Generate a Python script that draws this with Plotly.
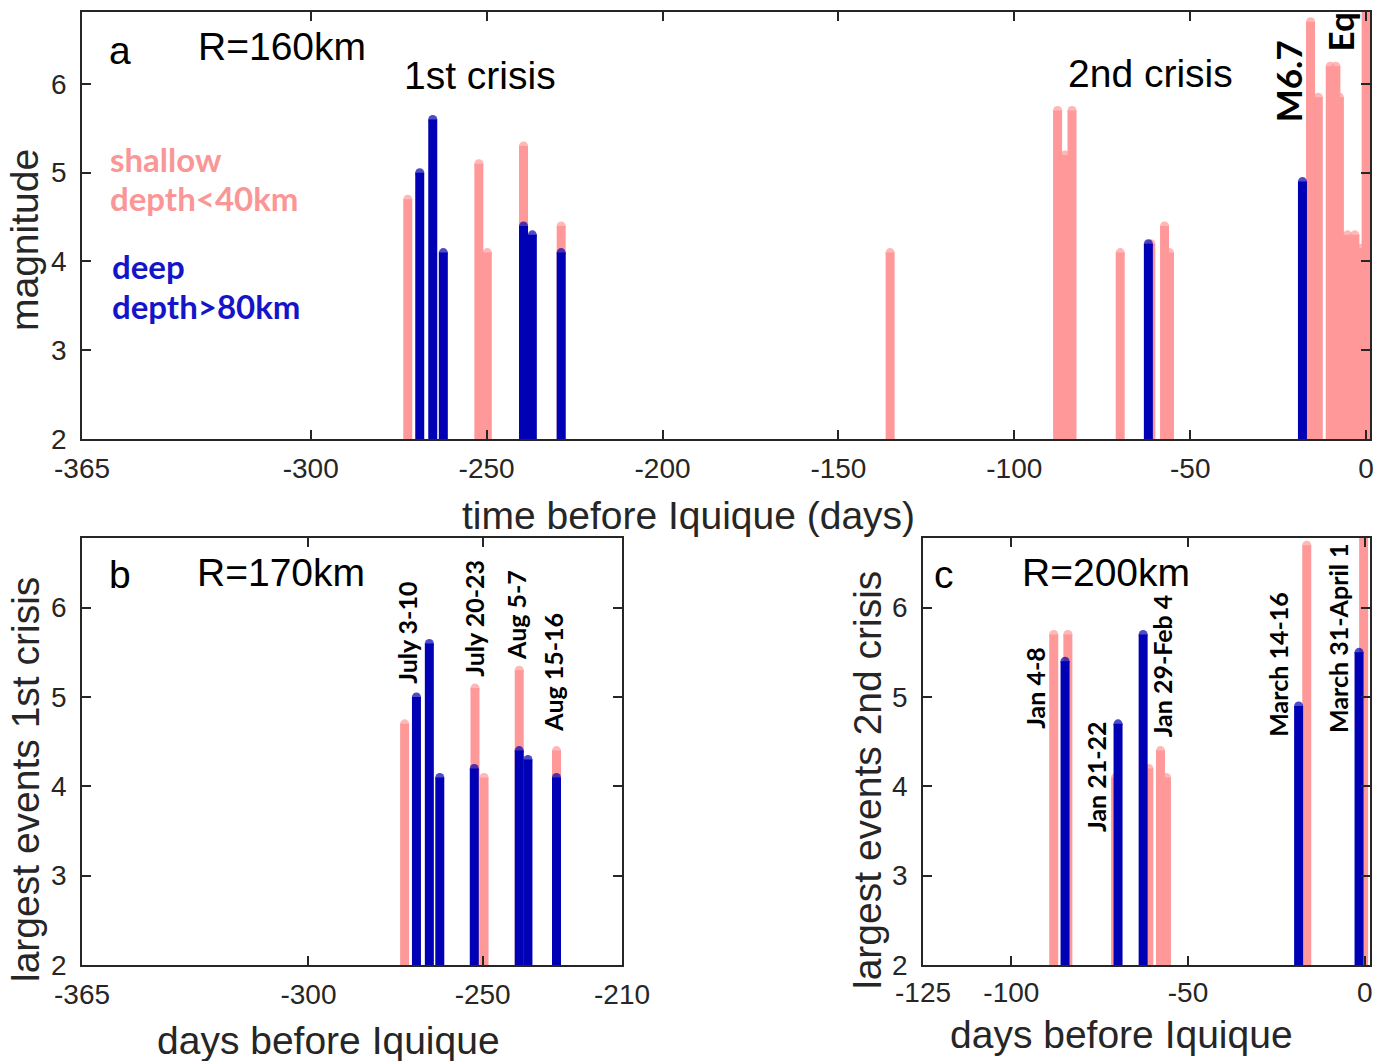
import plotly.graph_objects as go

# ---------------- data ----------------
# Panel a: R=160km (days before Iquique, magnitude)
a_shallow_days = [-272.4, -252.2, -249.8, -239.5, -228.8, -135.3, -87.7, -85.6, -83.6,
                  -69.9, -61.2, -57.3, -55.9, -15.8, -13.6, -10.2, -8.6, -7.6,
                  -5.3, -3.2, -1.5, 0.0]
a_shallow_mag = [4.7, 5.1, 4.1, 5.3, 4.4, 4.1, 5.7, 5.2, 5.7,
                 4.1, 4.2, 4.4, 4.1, 6.7, 5.85, 6.2, 6.2, 5.85,
                 4.3, 4.3, 4.15, 8.2]
a_deep_days = [-269.0, -265.3, -262.3, -239.5, -237.0, -228.8, -61.9, -18.1]
a_deep_mag = [5.0, 5.6, 4.1, 4.4, 4.3, 4.1, 4.2, 4.9]

# Panel b: R=170km, first crisis
b_shallow_days = [-272.4, -252.2, -249.6, -239.5, -228.8]
b_shallow_mag = [4.7, 5.1, 4.1, 5.3, 4.4]
b_deep_days = [-269.0, -265.3, -262.3, -252.4, -239.5, -237.0, -228.8]
b_deep_mag = [5.0, 5.6, 4.1, 4.2, 4.4, 4.3, 4.1]

# Panel c: R=200km, second crisis
c_shallow_days = [-88.0, -84.0, -70.5, -61.1, -57.8, -56.1, -16.4, -0.3]
c_shallow_mag = [5.7, 5.7, 4.1, 4.2, 4.4, 4.1, 6.7, 8.2]
c_deep_days = [-84.8, -69.8, -62.7, -18.7, -1.6]
c_deep_mag = [5.4, 4.7, 5.7, 4.9, 5.5]

a_xticks = [-365, -300, -250, -200, -150, -100, -50, 0]
b_xticks = [-365, -300, -250, -210]
c_xticks = [-125, -100, -50, 0]
y_ticks = [2, 3, 4, 5, 6]

b_labels = ["July 3-10", "July 20-23", "Aug 5-7", "Aug 15-16"]
b_label_x = [-271.7, -252.4, -240.4, -229.9]
b_label_y = [5.72, 5.88, 5.92, 5.28]
c_labels = ["Jan 4-8", "Jan 21-22", "Jan 29-Feb 4", "March 14-16", "March 31-April 1"]
c_label_x = [-93.4, -75.9, -57.5, -24.6, -7.6]
c_label_y = [5.10, 4.10, 5.35, 5.37, 5.66]

# ---------------- style ----------------
PINK = "#FF9999"
BLUE = "#0000B4"
TXT_PINK = "#FA9696"
TXT_BLUE = "#1414C8"
AX = "#262626"
LW = 9
YMIN = 2

fig = go.Figure()


def stems(days, mags):
    xs, ys, sizes = [], [], []
    for d, m in zip(days, mags):
        xs += [d, d, None]
        ys += [YMIN, m, None]
        sizes += [0, LW, 0]
    return xs, ys, sizes


def add_series(days, mags, color, xa, ya):
    xs, ys, sz = stems(days, mags)
    fig.add_trace(go.Scatter(x=xs, y=ys, mode="lines+markers",
                             line=dict(color=color, width=LW),
                             marker=dict(color=color, size=sz, line=dict(width=0)),
                             xaxis=xa, yaxis=ya, showlegend=False, hoverinfo="skip"))


add_series(a_shallow_days, a_shallow_mag, PINK, "x", "y")
add_series(a_deep_days, a_deep_mag, BLUE, "x", "y")
add_series(b_shallow_days, b_shallow_mag, PINK, "x2", "y2")
add_series(b_deep_days, b_deep_mag, BLUE, "x2", "y2")
add_series(c_shallow_days, c_shallow_mag, PINK, "x3", "y3")
add_series(c_deep_days, c_deep_mag, BLUE, "x3", "y3")

W, H = 1386, 1061


def px(xp):
    return xp / W


def py(yp):
    return 1 - yp / H


def lab(vals):
    return [str(v) for v in vals]


axis_common = dict(showline=True, linecolor=AX, linewidth=1.5, mirror="ticks",
                   ticks="inside", ticklen=9, tickwidth=1.5, tickcolor=AX,
                   showgrid=False, zeroline=False, automargin=False,
                   tickfont=dict(family="Liberation Sans", size=28, color=AX))

fig.update_layout(
    template="none",
    width=W, height=H, margin=dict(l=0, r=0, t=0, b=0, autoexpand=False),
    paper_bgcolor="white", plot_bgcolor="white", showlegend=False,
    xaxis=dict(domain=[px(82), px(1370)], range=[-365, 1.1], tickvals=a_xticks,
               ticktext=lab(a_xticks), anchor="y", ticklabelstandoff=4, **axis_common),
    yaxis=dict(domain=[py(439), py(12)], range=[2, 6.81], tickvals=y_ticks,
               ticktext=lab(y_ticks), anchor="x", ticklabelstandoff=8, **axis_common),
    xaxis2=dict(domain=[px(82), px(622)], range=[-365, -210], tickvals=b_xticks,
                ticktext=lab(b_xticks), anchor="y2", ticklabelstandoff=4, **axis_common),
    yaxis2=dict(domain=[py(965), py(538)], range=[2, 6.78], tickvals=y_ticks,
                ticktext=lab(y_ticks), anchor="x2", ticklabelstandoff=8, **axis_common),
    xaxis3=dict(domain=[px(923), px(1370)], range=[-125, 1.5], tickvals=c_xticks,
                ticktext=lab(c_xticks), anchor="y3", ticklabelstandoff=2, **axis_common),
    yaxis3=dict(domain=[py(965), py(538)], range=[2, 6.78], tickvals=y_ticks,
                ticktext=lab(y_ticks), anchor="x3", ticklabelstandoff=8, **axis_common),
)

ann = []
BIG = dict(family="Liberation Sans", size=39, color="black")
TITLE = dict(family="Liberation Sans", size=39, color=AX)


def t(text, x, y, xref, yref, font, xanchor="center", yanchor="middle", angle=0):
    ann.append(dict(text=text, x=x, y=y, xref=xref, yref=yref, font=font,
                    xanchor=xanchor, yanchor=yanchor, textangle=angle,
                    showarrow=False))


# panel a texts
t("a", -354.2, 6.38, "x", "y", BIG)
t("R=160km", -332.5, 6.42, "x", "y", BIG, xanchor="left")
t("1st crisis", -251.8, 6.10, "x", "y", BIG)
t("2nd crisis", -61.4, 6.12, "x", "y", BIG)
LEG = dict(family="Lato", size=33, weight="bold")
t("shallow", -357.6, 5.15, "x", "y", dict(LEG, color=TXT_PINK), xanchor="left")
t("depth<40km", -357.6, 4.72, "x", "y", dict(LEG, color=TXT_PINK), xanchor="left")
t("deep", -357.0, 3.95, "x", "y", dict(LEG, color=TXT_BLUE), xanchor="left")
t("depth>80km", -357.0, 3.50, "x", "y", dict(LEG, color=TXT_BLUE), xanchor="left")
MARK = dict(family="Lato", size=35, weight="bold", color="black")
t("M6.7", -22.2, 6.03, "x", "y", MARK, angle=-90)
t("Eq", -7.4, 6.58, "x", "y", MARK, angle=-90)

# panel b texts
t("b", -354.2, 6.37, "x2", "y2", BIG)
t("R=170km", -332.5, 6.39, "x2", "y2", BIG, xanchor="left")
DATE = dict(family="Lato", size=25, weight="bold", color="black")
for s, x, y in zip(b_labels, b_label_x, b_label_y):
    t(s, x, y, "x2", "y2", DATE, angle=-90)

# panel c texts
t("c", -119.0, 6.37, "x3", "y3", BIG)
t("R=200km", -97.6, 6.39, "x3", "y3", BIG, xanchor="left")
for s, x, y in zip(c_labels, c_label_x, c_label_y):
    t(s, x, y, "x3", "y3", DATE, angle=-90)

# axis titles
t("time before Iquique (days)", px(688), py(515), "paper", "paper", TITLE)
t("magnitude", px(25), py(240), "paper", "paper", TITLE, angle=-90)
t("days before Iquique", px(328), py(1040), "paper", "paper", TITLE)
t("largest events 1st crisis", px(25), py(780), "paper", "paper", TITLE, angle=-90)
t("days before Iquique", px(1121), py(1034), "paper", "paper", TITLE)
t("largest events 2nd crisis", px(867), py(780), "paper", "paper", TITLE, angle=-90)

fig.update_layout(annotations=ann)
fig.write_html("out.html")
